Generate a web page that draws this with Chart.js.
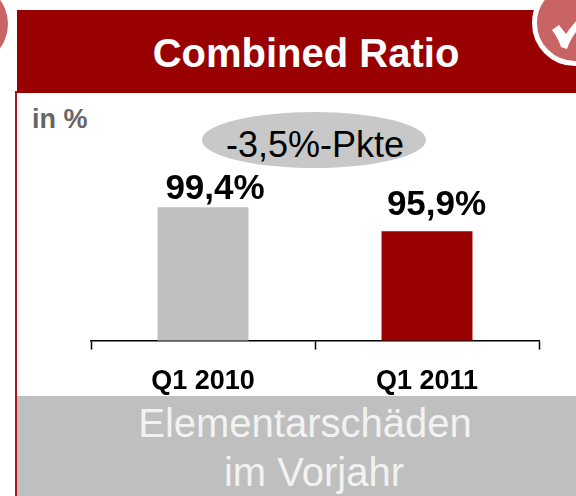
<!DOCTYPE html>
<html><head><meta charset="utf-8">
<script src="https://cdn.jsdelivr.net/npm/chart.js@4"></script>
<style>
html,body{margin:0;padding:0;background:#fff;width:576px;height:496px;overflow:hidden;font-family:"Liberation Sans",Arial,sans-serif}
.a{position:absolute}
.t{position:absolute;white-space:nowrap;text-align:center}
canvas{position:absolute;left:0;top:0}
</style></head><body>
<div class="a" style="left:17px;top:10px;width:559px;height:83px;background:#990000"></div>
<div class="a" style="left:15px;top:91px;width:2px;height:405px;background:#b01515"></div>
<div class="a" style="left:17px;top:396px;width:559px;height:100px;background:#bfbfbf"></div>
<svg class="a" style="left:0;top:0" width="576" height="496">
  <circle cx="-33" cy="24" r="41" fill="#c96464"/>
  <circle cx="575" cy="23" r="40.5" fill="#c96464" stroke="#fff" stroke-width="5"/>
  <path d="M552 30 L559 25 L566 34 C569 29 573 25 576 21 L576 32 C572 37 569 43 567 49 L561 47 C559 41 556 35 552 30 Z" fill="#fff"/>
  <ellipse cx="314" cy="140" rx="112" ry="28" fill="#c8c8c8"/>
</svg>
<div class="t" style="left:17px;width:578px;top:28px;font:bold 40px/50px 'Liberation Sans';color:#fff">Combined Ratio</div>
<div class="t" style="left:32px;top:104px;font:bold 27px/30px 'Liberation Sans';color:#666">in %</div>
<div class="t" style="left:203px;width:224px;top:124px;font:36px/42px 'Liberation Sans';color:#000">-3,5%-Pkte</div>
<div class="t" style="left:17px;width:576px;top:400px;font:40px/46px 'Liberation Sans';color:#f2f2f2">Elementarschäden</div>
<div class="t" style="left:33px;width:562px;top:449px;font:40px/46px 'Liberation Sans';color:#f2f2f2">im Vorjahr</div>
<canvas id="c" width="576" height="496"></canvas>
<script>
const categories = ["Q1 2010", "Q1 2011"];
const combinedRatio = [99.4, 95.9];
const valueLabels = ["99,4%", "95,9%"];
const barColors = ["#bfbfbf", "#990000"];
const labelGaps = [8, 16];
const labelShifts = [12, 9.5];
const valueLabelPlugin = {
  id: "valueLabels",
  afterDatasetsDraw(chart) {
    const ctx = chart.ctx;
    ctx.save();
    ctx.font = "bold 35px 'Liberation Sans'";
    ctx.fillStyle = "#000";
    ctx.textAlign = "center";
    ctx.textBaseline = "alphabetic";
    chart.getDatasetMeta(0).data.forEach((bar, i) => {
      ctx.fillText(valueLabels[i], bar.x + labelShifts[i], bar.y - labelGaps[i]);
    });
    ctx.restore();
  }
};
new Chart(document.getElementById("c"), {
  type: "bar",
  data: { labels: categories, datasets: [{ data: combinedRatio, backgroundColor: barColors, barPercentage: 0.406, categoryPercentage: 1 }] },
  options: {
    responsive: false, animation: false,
    layout: { padding: { left: 91, right: 37, top: 100, bottom: 82 } },
    plugins: { legend: { display: false }, tooltip: { enabled: false } },
    scales: {
      y: { display: false, min: 80, max: 115 },
      x: {
        border: { display: true, color: "#000", width: 1.5 },
        grid: { drawOnChartArea: false, drawTicks: true, tickLength: 9, tickColor: "#000", tickWidth: 1.5 },
        ticks: { color: "#000", font: { family: "Liberation Sans", size: 27, weight: "bold" }, maxRotation: 0, padding: 16 }
      }
    }
  },
  plugins: [valueLabelPlugin]
});
</script>
</body></html>
